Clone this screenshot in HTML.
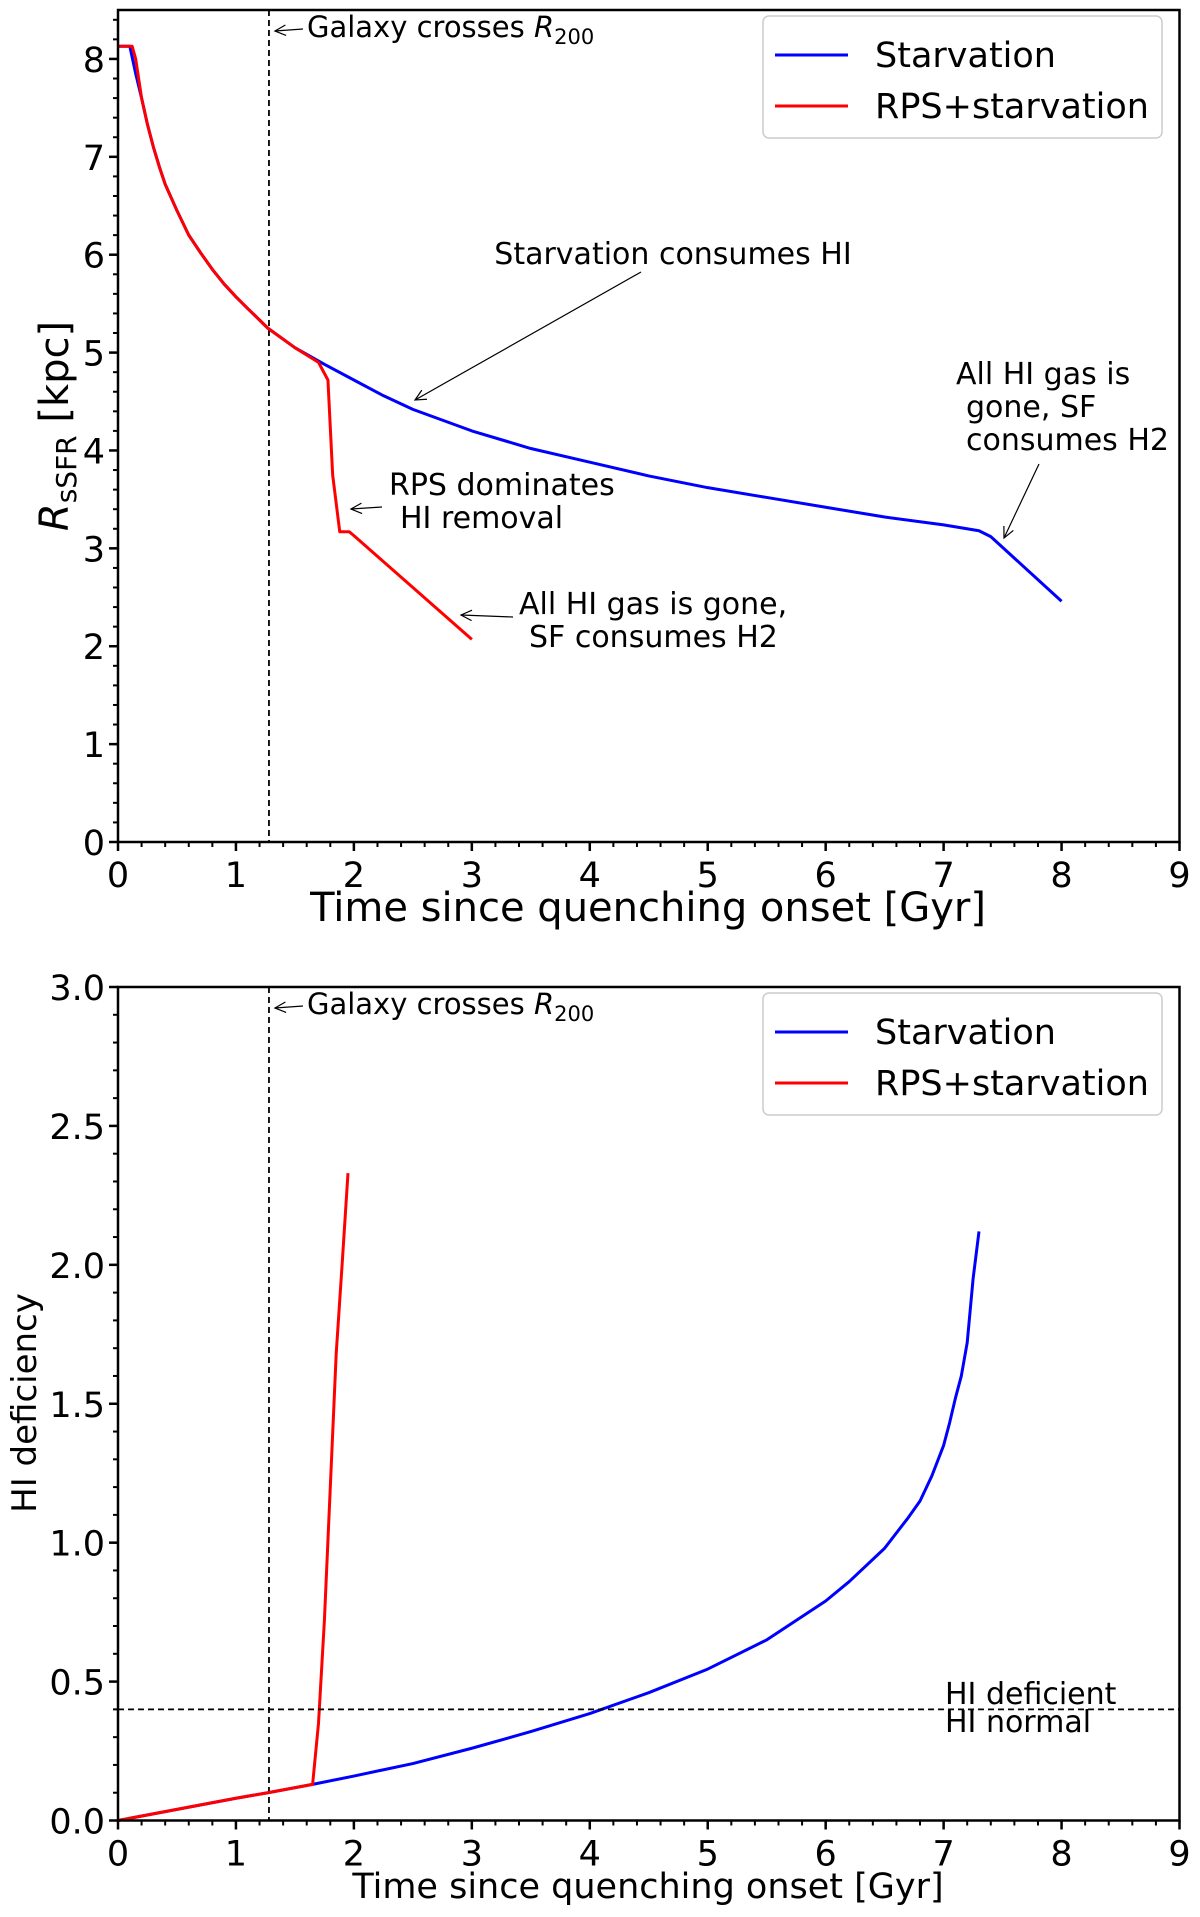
<!DOCTYPE html>
<html><head><meta charset="utf-8"><style>
html,body{margin:0;padding:0;background:#fff;}
svg{display:block;font-family:"DejaVu Sans","Liberation Sans",sans-serif;}
</style></head><body>
<svg id="fig" width="1200" height="1917" viewBox="0 0 1200 1917" xmlns="http://www.w3.org/2000/svg"></svg>
<script>
// ---- data ----
const topStarvT = [0,0.1,0.15,0.2,0.25,0.3,0.35,0.4,0.5,0.6,0.7,0.8,0.9,1.0,1.1,1.27,1.5,1.75,2.0,2.25,2.5,3.0,3.5,4.0,4.5,5.0,5.5,6.0,6.5,7.0,7.3,7.4,8.0];
const topStarvR = [8.13,8.13,7.85,7.6,7.33,7.1,6.9,6.72,6.45,6.2,6.02,5.85,5.7,5.57,5.45,5.25,5.05,4.88,4.72,4.56,4.42,4.2,4.02,3.88,3.74,3.62,3.52,3.42,3.32,3.24,3.18,3.12,2.46];
const topRpsT = [0,0.12,0.15,0.2,0.25,0.3,0.35,0.4,0.5,0.6,0.7,0.8,0.9,1.0,1.1,1.27,1.5,1.7,1.78,1.82,1.88,1.96,2.0,2.5,3.0];
const topRpsR = [8.13,8.13,8.0,7.6,7.33,7.1,6.9,6.72,6.45,6.2,6.02,5.85,5.7,5.57,5.45,5.25,5.05,4.9,4.72,3.75,3.17,3.17,3.13,2.6,2.07];
const botStarvT = [0,1,1.27,1.65,2,2.5,3,3.5,4,4.5,5,5.5,6,6.2,6.5,6.7,6.8,6.9,7.0,7.05,7.1,7.15,7.2,7.25,7.3];
const botStarvD = [0,0.08,0.1,0.13,0.16,0.205,0.26,0.32,0.385,0.46,0.545,0.65,0.79,0.86,0.98,1.09,1.15,1.24,1.35,1.43,1.52,1.6,1.72,1.95,2.12];
const botRpsT = [0,1,1.27,1.65,1.7,1.75,1.8,1.85,1.9,1.95];
const botRpsD = [0,0.08,0.1,0.13,0.35,0.72,1.2,1.68,2.0,2.33];
const xTicks = [0,1,2,3,4,5,6,7,8,9];
const topYTicks = [0,1,2,3,4,5,6,7,8];
const botYTicks = [0,0.5,1.0,1.5,2.0,2.5,3.0];
const crossT = 1.28;
const hiThreshold = 0.4;

const NS="http://www.w3.org/2000/svg";
const svg=document.getElementById('fig');
function mk(tag,attrs,parent,text){const e=document.createElementNS(NS,tag);for(const k in attrs)e.setAttribute(k,attrs[k]);if(text!==undefined)e.textContent=text;(parent||svg).appendChild(e);return e;}

function panel(cfg){
  const g=mk('g',{});
  
  
  const X=v=>cfg.x0+(v-0)/(9-0)*(cfg.x1-cfg.x0);
  const Y=v=>cfg.y1-(v-0)/(cfg.ymax)*(cfg.y1-cfg.y0);
  for(let v=0;v<=9.0001;v+=0.2){mk('line',{x1:X(v),x2:X(v),y1:cfg.y1,y2:cfg.y1+5,stroke:'#000','stroke-width':2},g);}
  for(let v=0;v<=cfg.ymax+1e-6;v+=cfg.yminor){mk('line',{x1:cfg.x0-5,x2:cfg.x0,y1:Y(v),y2:Y(v),stroke:'#000','stroke-width':2},g);}
  xTicks.forEach(v=>{
    const t=mk('line',{x1:X(v),x2:X(v),y1:cfg.y1,y2:cfg.y1+9,stroke:'#000','stroke-width':2.5},g);
    
    const l=mk('text',{x:X(v),y:cfg.y1+45,'text-anchor':'middle','font-size':35},g,String(v));
    
  });
  cfg.yticks.forEach(v=>{
    const t=mk('line',{x1:cfg.x0-9,x2:cfg.x0,y1:Y(v),y2:Y(v),stroke:'#000','stroke-width':2.5},g);
    
    const l=mk('text',{x:cfg.x0-13,y:Y(v)+13,'text-anchor':'end','font-size':35},g,cfg.fmt(v));
    
  });
  const vl=mk('line',{x1:X(crossT),x2:X(crossT),y1:cfg.y0,y2:cfg.y1,stroke:'#000','stroke-width':1.8,'stroke-dasharray':'6,4'},g);
  
  function line(ts,vs,color,name){
    const p=mk('polyline',{points:ts.map((t,i)=>X(t)+','+Y(vs[i])).join(' '),fill:'none',stroke:color,'stroke-width':3,'stroke-linejoin':'round'},g);
    
  }
  line(cfg.sT,cfg.sV,'#0000ff','starvation-line');
  line(cfg.rT,cfg.rV,'#ff0000','rps-starvation-line');
  const fr=mk('rect',{x:cfg.x0,y:cfg.y0,width:cfg.x1-cfg.x0,height:cfg.y1-cfg.y0,fill:'none',stroke:'#000','stroke-width':2.5},g);
  
  const ct=mk('text',{x:X(crossT)+38,y:cfg.y0+27,'font-size':29},g);
  
  ct.innerHTML='Galaxy crosses <tspan font-style="italic">R</tspan><tspan font-size="21" dy="7">200</tspan>';
  arrow(g,X(crossT)+34,cfg.y0+19,X(crossT)+6,cfg.y0+21);
  const lg=mk('g',{},g);
  mk('rect',{x:763,y:cfg.y0+6,width:399,height:122,rx:6,fill:'#fff',stroke:'#ccc','stroke-width':1.5},lg);
  const e1=mk('g',{},lg);
  mk('line',{x1:775,x2:848,y1:cfg.y0+45,y2:cfg.y0+45,stroke:'#0000ff','stroke-width':3},e1);
  mk('text',{x:875,y:cfg.y0+57,'font-size':35},e1,'Starvation');
  const e2=mk('g',{},lg);
  mk('line',{x1:775,x2:848,y1:cfg.y0+96,y2:cfg.y0+96,stroke:'#ff0000','stroke-width':3},e2);
  mk('text',{x:875,y:cfg.y0+108,'font-size':35},e2,'RPS+starvation');
  return {g,X,Y};
}
function arrow(g,x1,y1,x2,y2){
  const a=mk('g',{},g);
  mk('line',{x1,y1,x2,y2,stroke:'#000','stroke-width':1.2},a);
  const ang=Math.atan2(y1-y2,x1-x2),L=12,s=0.45;
  mk('polyline',{points:`${x2+L*Math.cos(ang+s)},${y2+L*Math.sin(ang+s)} ${x2},${y2} ${x2+L*Math.cos(ang-s)},${y2+L*Math.sin(ang-s)}`,fill:'none',stroke:'#000','stroke-width':1.2},a);
}
function txt(g,x,y,size,s,name,anchor){const t=mk('text',{x,y,'font-size':size,'text-anchor':anchor||'start'},g,s);return t;}

const P1=panel({name:'rssfr-panel',x0:118,x1:1179.5,y0:10,y1:842,ymax:8.5,yminor:0.2,yticks:topYTicks,fmt:v=>String(v),sT:topStarvT,sV:topStarvR,rT:topRpsT,rV:topRpsR});
txt(P1.g,648,921,40,'Time since quenching onset [Gyr]','x-axis-title','middle');
const yl=mk('text',{transform:'translate(68,426) rotate(-90)','text-anchor':'middle','font-size':40},P1.g);

yl.innerHTML='<tspan font-style="italic">R</tspan><tspan font-size="28" dy="8">sSFR</tspan><tspan dy="-8"> [kpc]</tspan>';
txt(P1.g,673,264,30,'Starvation consumes HI','annotation-starvation','middle');
arrow(P1.g,641,272,415,400);
txt(P1.g,956,384,30,'All HI gas is','annotation-starv-h2');
txt(P1.g,966,417,30,'gone,  SF','annotation-starv-h2');
txt(P1.g,966,450,30,'consumes H2','annotation-starv-h2');
arrow(P1.g,1039,464,1004,538);
txt(P1.g,389,495,30,'RPS dominates','annotation-rps');
txt(P1.g,400,528,30,'HI removal','annotation-rps');
arrow(P1.g,382,507,351,509);
txt(P1.g,519,614,30,'All HI gas is gone,','annotation-rps-h2');
txt(P1.g,529,647,30,'SF consumes H2','annotation-rps-h2');
arrow(P1.g,513,617,461,615);

const P2=panel({name:'hi-deficiency-panel',x0:118,x1:1179.5,y0:987,y1:1820.5,ymax:3,yminor:0.1,yticks:botYTicks,fmt:v=>v.toFixed(1),sT:botStarvT,sV:botStarvD,rT:botRpsT,rV:botRpsD});
txt(P2.g,648,1898,35,'Time since quenching onset [Gyr]','x-axis-title','middle');
const yl2=mk('text',{transform:'translate(36,1403) rotate(-90)','text-anchor':'middle','font-size':34},P2.g,'HI deficiency');

const hl=mk('line',{x1:118,x2:1179.5,y1:P2.Y(hiThreshold),y2:P2.Y(hiThreshold),stroke:'#000','stroke-width':1.8,'stroke-dasharray':'6,4'},P2.g);

txt(P2.g,945,1704,30,'HI deficient','threshold-label-deficient');
txt(P2.g,945,1732,30,'HI normal','threshold-label-normal');
</script>
</body></html>
